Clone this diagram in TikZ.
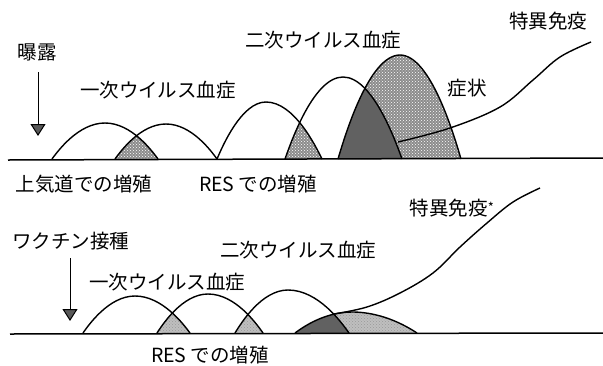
\documentclass[tikz,border=0pt]{standalone}
\usepackage{fontspec}
\setmainfont{Noto Sans CJK JP}
\usetikzlibrary{arrows.meta,patterns}
\begin{document}
\begin{tikzpicture}[x=1pt,y=-1pt,
  lbl/.style={inner sep=0pt, font=\fontsize{19.5}{20}\selectfont},
  curve/.style={line width=1.4pt},
  baseline/.style={line width=1.5pt},
  lightfill/.style={fill=black!45, postaction={pattern=crosshatch dots, pattern color=white}},
  lighterfill/.style={fill=black!25, postaction={pattern=crosshatch dots, pattern color=white!60!black}},
  darkfill/.style={fill=black!62},
  exparrow/.style={line width=1pt, -{Triangle[width=15pt,length=12pt,fill=black!65]}}]
\useasboundingbox (0,0) rectangle (603,365);

% ---------------- top panel ----------------
\begin{scope}
  \clip (52,159) parabola bend (105,123) (158,159) -- cycle;
  \fill[lightfill] (115,159) parabola bend (166,124) (217,159) -- cycle;
\end{scope}
\begin{scope}
  \clip (217,159) parabola bend (266,102) (322,159) -- cycle;
  \fill[lightfill] (285,159) parabola bend (343,77) (402,159) -- cycle;
\end{scope}
\fill[lightfill] (338,159) parabola bend (400,55) (461,159) -- cycle;
\begin{scope}
  \clip (285,159) parabola bend (343,77) (402,159) -- cycle;
  \fill[darkfill] (338,159) parabola bend (400,55) (461,159) -- cycle;
\end{scope}

\draw[curve] (52,159) parabola bend (105,123) (158,159);
\draw[curve] (115,159) parabola bend (166,124) (217,159);
\draw[curve] (217,159) parabola bend (266,102) (322,159);
\draw[curve] (285,159) parabola bend (343,77) (402,159);
\draw[curve] (338,159) parabola bend (400,55) (461,159);
\draw[curve] plot[smooth, tension=0.6] coordinates {(398,142) (450,128) (500,107) (533,80) (560,57) (591,42)};
\coordinate (tb0) at (8,160);
\coordinate (tb1) at (603,158);
\draw[baseline] (tb0) -- (tb1);

\node[lbl] (expo) at (37,52) {曝露};
\coordinate (expoS) at (38,72);
\coordinate (expoT) at (38,136);
\draw[exparrow] (expoS) -- (expoT);
\node[lbl] (prim1) at (158,90) {一次ウイルス血症};
\node[lbl] (sec1) at (323,40) {二次ウイルス血症};
\node[lbl] (symp) at (467,88) {症状};
\node[lbl] (imm1) at (548,21) {特異免疫};
\node[lbl] (uprt) at (84,184) {上気道での増殖};
\node[lbl] (res1) at (258,184) {RES での増殖};

% ---------------- bottom panel ----------------
\fill[lighterfill] (295,333) parabola bend (352,312) (417,333) -- cycle;
\begin{scope}
  \clip (83,333) parabola bend (135,296) (190,333) -- cycle;
  \fill[lighterfill] (157,333) parabola bend (208,294) (263,333) -- cycle;
\end{scope}
\begin{scope}
  \clip (157,333) parabola bend (208,294) (263,333) -- cycle;
  \fill[lighterfill] (235,333) parabola bend (288,290) (349,333) -- cycle;
\end{scope}
\begin{scope}
  \clip (235,333) parabola bend (288,290) (349,333) -- cycle;
  \fill[darkfill] (295,333) parabola bend (352,312) (417,333) -- cycle;
\end{scope}

\draw[curve] (83,333) parabola bend (135,296) (190,333);
\draw[curve] (157,333) parabola bend (208,294) (263,333);
\draw[curve] (235,333) parabola bend (288,290) (349,333);
\draw[curve] (295,333) parabola bend (352,312) (417,333);
\draw[curve] plot[smooth, tension=0.6] coordinates {(334,314) (367,307) (400,293) (433,273) (460,247) (487,223) (513,202) (540,188)};
\coordinate (bb0) at (10,334);
\coordinate (bb1) at (603,333);
\draw[baseline] (bb0) -- (bb1);

\node[lbl] (vacc) at (71,241) {ワクチン接種};
\coordinate (vaccS) at (70,258);
\coordinate (vaccT) at (70,321);
\draw[exparrow] (vaccS) -- (vaccT);
\node[lbl] (prim2) at (167,282) {一次ウイルス血症};
\node[lbl] (sec2) at (298,250) {二次ウイルス血症};
\node[lbl] (imm2) at (452,208) {特異免疫\raisebox{3pt}{\fontsize{13}{13}\selectfont *}};
\node[lbl] (res2) at (210,355) {RES での増殖};
\end{tikzpicture}
\end{document}
